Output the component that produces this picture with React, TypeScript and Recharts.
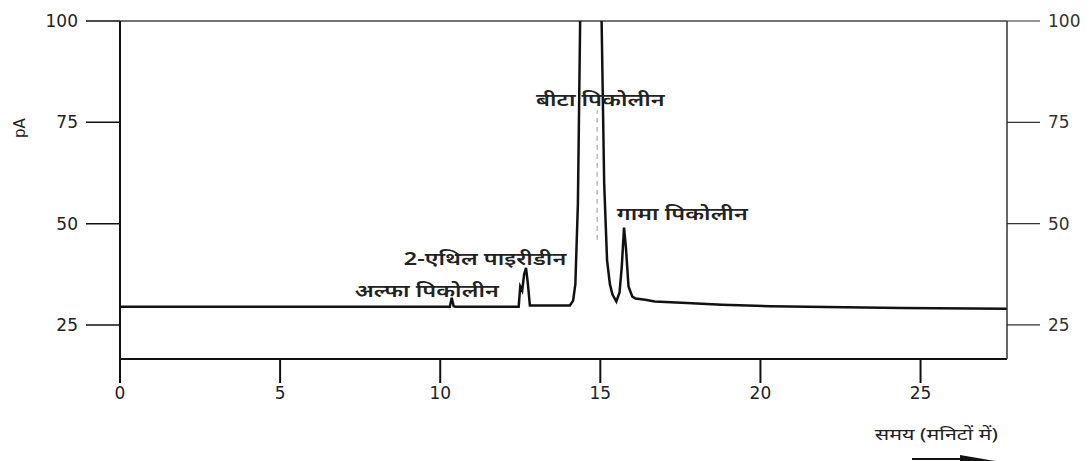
import { Label, Line, LineChart, ReferenceDot, ReferenceLine, XAxis, YAxis } from "recharts";

// retention time (minutes) and detector signal (pA)
const timeMin = [
  0, 10.3, 10.36, 10.42, 10.48, 12.45, 12.5, 12.56, 12.62, 12.68, 12.74, 12.8, 14.05, 14.15, 14.22, 14.3, 14.37,
  14.7, 15.04, 15.12, 15.21, 15.3, 15.38, 15.5, 15.6, 15.67, 15.74, 15.8, 15.88, 16.0, 16.1, 16.4, 16.7, 17.7, 18.8,
  20.3, 24.4, 27.7
];
const signalPA = [
  29.5, 29.5, 31.7, 29.6, 29.5, 29.5, 34.5, 33.5, 37.5, 39.1, 35, 29.8, 29.8, 31, 35, 55, 100, 160, 100, 60, 41, 35,
  32.5, 30.8, 33, 39.4, 49, 44, 34.5, 32, 31.5, 31.2, 30.8, 30.4, 30, 29.6, 29.2, 29.0
];

const xTicks = [0, 5, 10, 15, 20, 25];
const yTicks = [25, 50, 75, 100];

// peak names and where they sit on the chart
const peakNames = ["अल्फा पिकोलीन", "2-एथिल पाइरीडीन", "बीटा पिकोलीन", "गामा पिकोलीन"];
const peakLabelTime = [9.58, 11.4, 15.0, 17.56];
const peakLabelSignal = [33.7, 41.6, 80.7, 52.7];

const xTitle = "समय (मनिटों में)";
const yTitle = "pA";

const data = timeMin.map((t, i) => ({ t, pA: signalPA[i] }));

const tickFont = "'DejaVu Sans', 'Liberation Sans', sans-serif";
const hindiFont = "'Noto Sans', 'DejaVu Sans', sans-serif";
// the scanned devanagari is wider than the fallback font, stretch it a bit
const hindiStretch = 1.3;

function WideText({ x, y, size, weight = 600, anchor = "middle", children }: any) {
  return (
    <text
      x={x}
      y={y}
      transform={`translate(${x} 0) scale(${hindiStretch} 1) translate(${-x} 0)`}
      textAnchor={anchor}
      dominantBaseline="central"
      fontSize={size}
      fontWeight={weight}
      fontFamily={hindiFont}
      fill="#222"
    >
      {children}
    </text>
  );
}

function PeakLabel({ viewBox, name }: any) {
  return (
    <WideText x={viewBox.x + viewBox.width / 2} y={viewBox.y + viewBox.height / 2} size={18}>
      {name}
    </WideText>
  );
}

function XTitle({ viewBox }: any) {
  const right = viewBox.x + viewBox.width;
  const y = viewBox.y;
  return (
    <g>
      <WideText x={right - 9} y={y + 75} size={16.5} weight={400} anchor="end">
        {xTitle}
      </WideText>
      <line x1={right - 95} y1={y + 100} x2={right - 40} y2={y + 100} stroke="#111" strokeWidth={2} />
      <polygon points={`${right - 47},${y + 96} ${right - 12},${y + 102} ${right - 47},${y + 104}`} fill="#111" />
    </g>
  );
}

function YTitle({ viewBox }: any) {
  const x = 20;
  const y = viewBox.y + 107;
  return (
    <text x={x} y={y} transform={`rotate(-90 ${x} ${y})`} textAnchor="middle" dominantBaseline="central"
      fontSize={15} fontFamily={tickFont} fill="#222">
      {yTitle}
    </text>
  );
}

export default function App() {
  return (
    <div style={{ position: "absolute", left: 0, top: 0, background: "#fff" }}>
      <LineChart width={1091} height={461} data={data} margin={{ top: 21, right: 0, bottom: 0, left: 0 }}>
        <XAxis
          dataKey="t"
          type="number"
          domain={[0, 27.7]}
          ticks={xTicks}
          allowDataOverflow
          height={102}
          tickSize={24}
          tickMargin={4}
          axisLine={{ stroke: "#111", strokeWidth: 2 }}
          tickLine={{ stroke: "#111", strokeWidth: 2 }}
          tick={{ fill: "#222", fontSize: 17, fontFamily: tickFont }}
        >
          <Label content={<XTitle />} />
        </XAxis>
        <YAxis
          domain={[16.6, 100]}
          ticks={yTicks}
          allowDataOverflow
          width={120}
          tickSize={34}
          tickMargin={8}
          axisLine={{ stroke: "#111", strokeWidth: 2 }}
          tickLine={{ stroke: "#111", strokeWidth: 1.5 }}
          tick={{ fill: "#222", fontSize: 17, fontFamily: tickFont }}
        >
          <Label content={<YTitle />} />
        </YAxis>
        <YAxis
          yAxisId="right"
          orientation="right"
          domain={[16.6, 100]}
          ticks={yTicks}
          allowDataOverflow
          width={84}
          tickSize={33}
          tickMargin={8}
          axisLine={{ stroke: "#333", strokeWidth: 1.5 }}
          tickLine={{ stroke: "#333", strokeWidth: 1.2 }}
          tick={{ fill: "#333", fontSize: 17, fontFamily: tickFont }}
        />
        <ReferenceLine y={100} stroke="#444" strokeWidth={1.5} />
        <ReferenceLine
          segment={[{ x: 14.9, y: 46 }, { x: 14.9, y: 78 }]}
          stroke="#999"
          strokeWidth={1}
          strokeDasharray="5 4"
        />
        <Line
          type="linear"
          dataKey="pA"
          stroke="#111"
          strokeWidth={2.5}
          dot={false}
          isAnimationActive={false}
        />
        {peakNames.map((name, i) => (
          <ReferenceDot
            key={name}
            x={peakLabelTime[i]}
            y={peakLabelSignal[i]}
            r={0}
            stroke="none"
            fill="none"
            label={<PeakLabel name={name} />}
          />
        ))}
      </LineChart>
    </div>
  );
}
